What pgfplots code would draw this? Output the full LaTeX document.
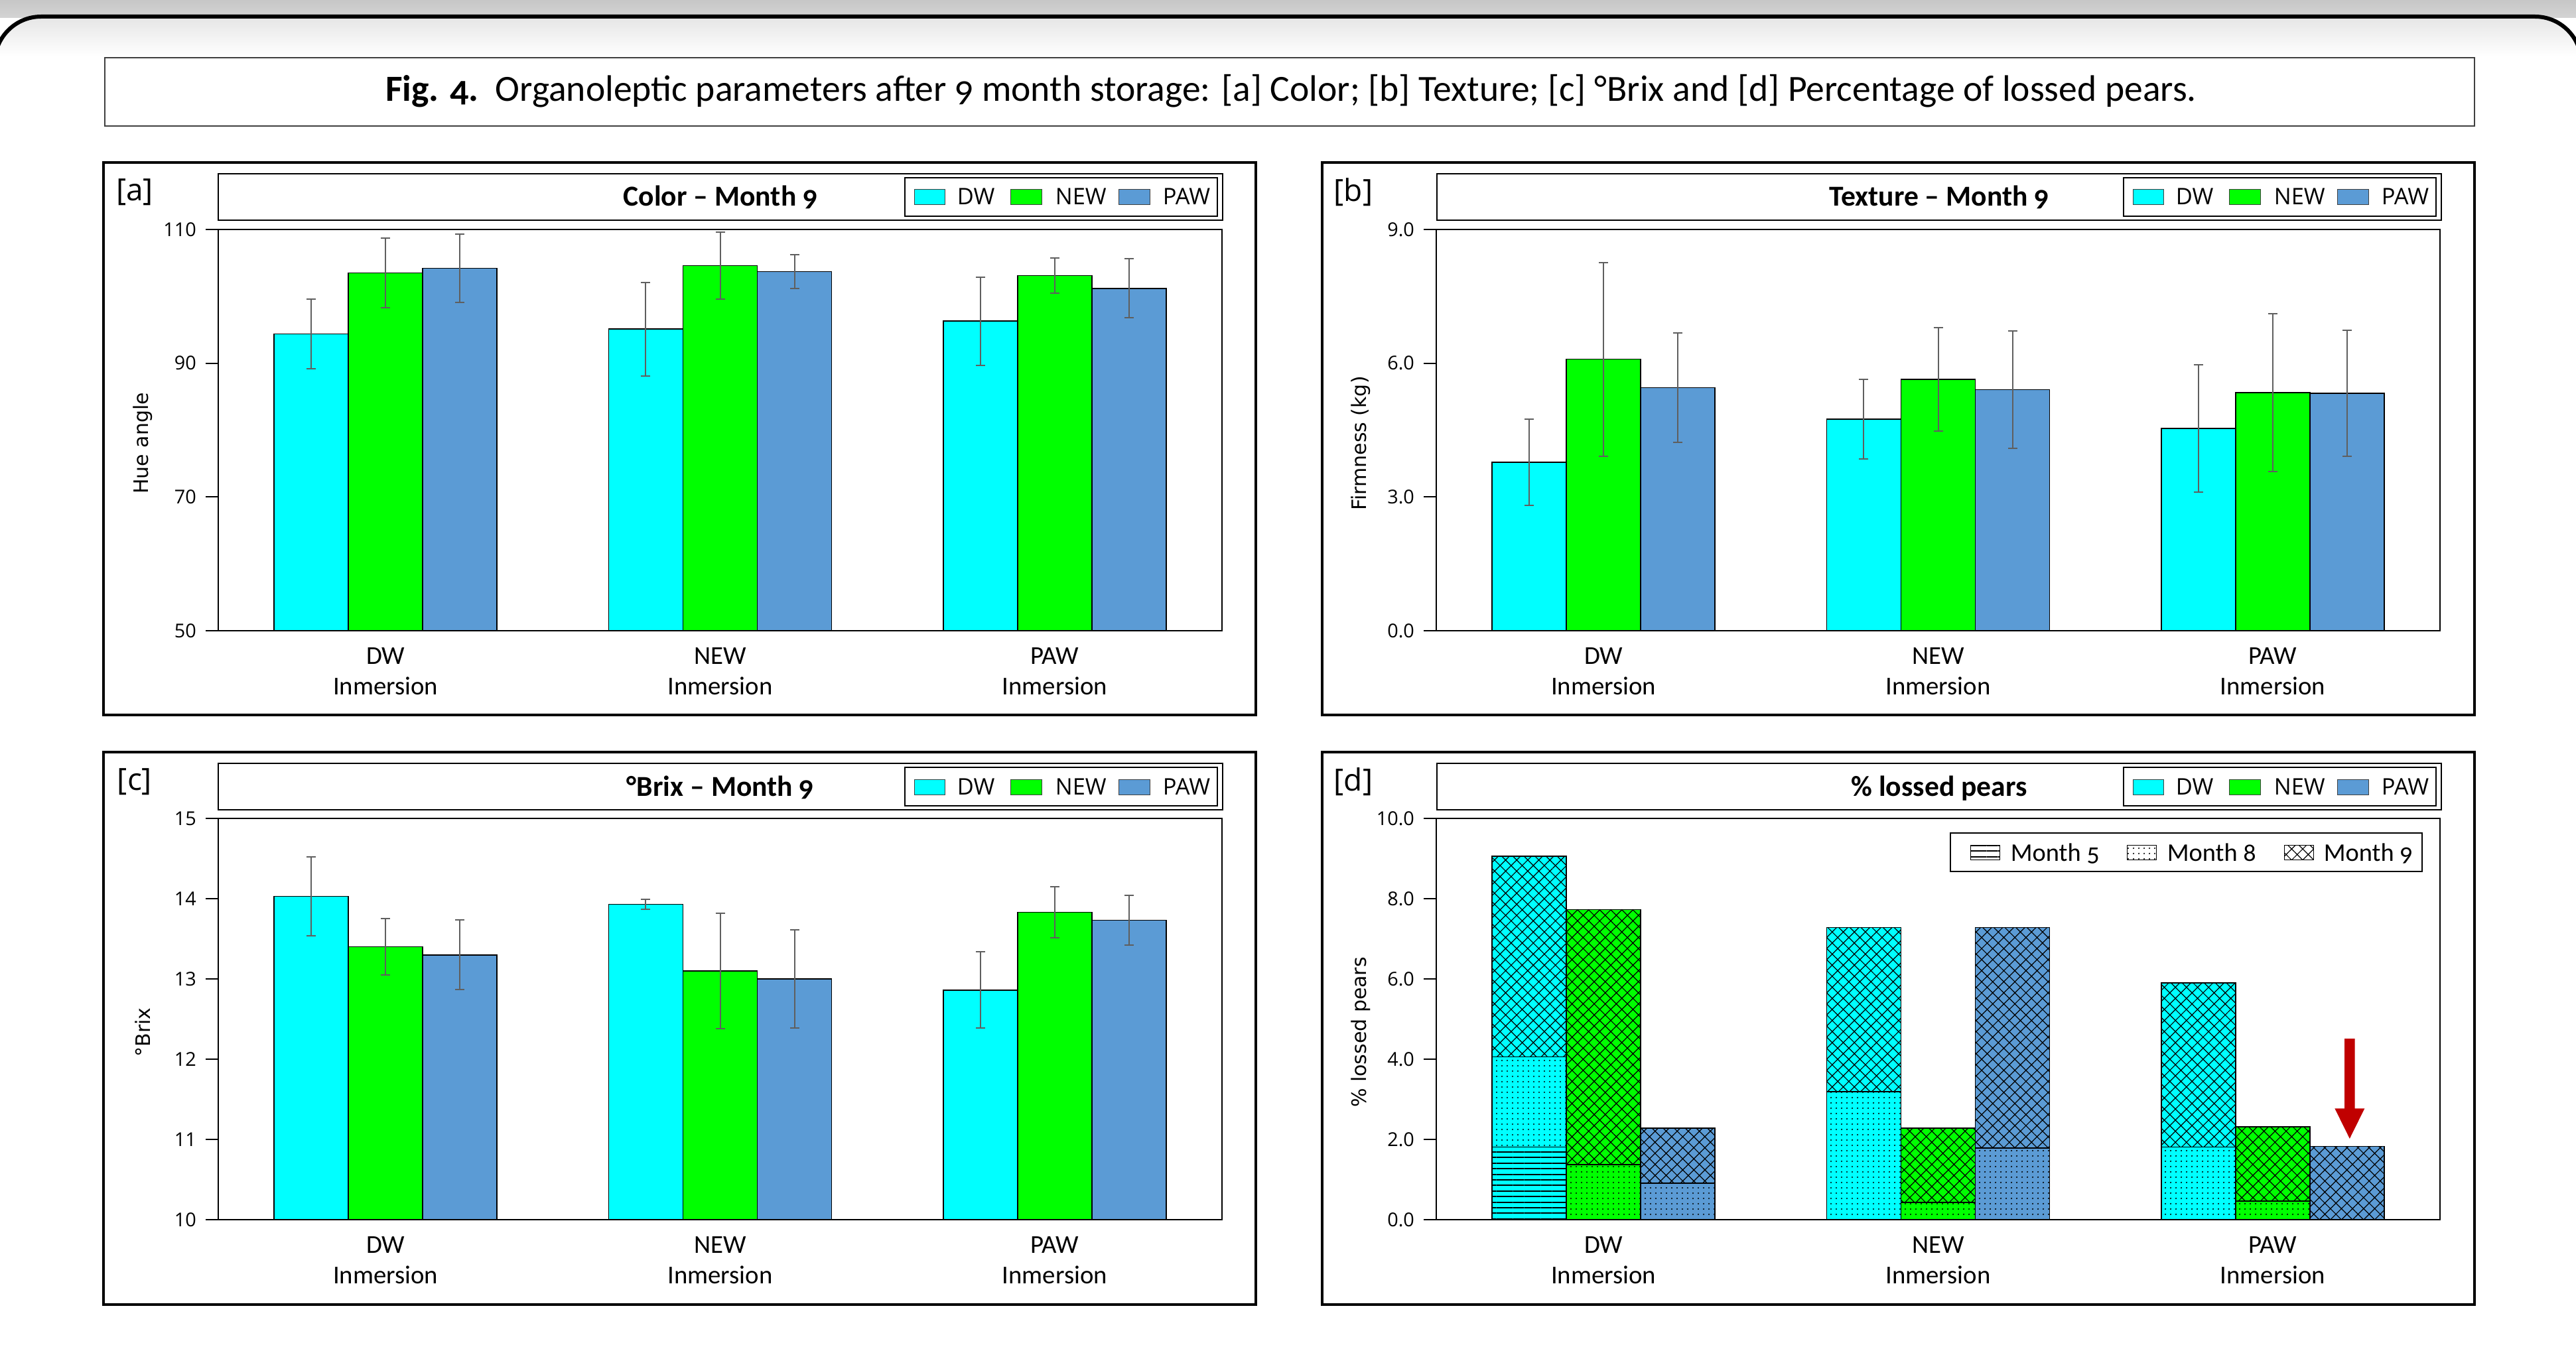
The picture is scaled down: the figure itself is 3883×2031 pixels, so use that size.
\documentclass[border=0pt]{standalone}
\usepackage{fontspec}
\setmainfont{Carlito}[Numbers=OldStyle]
\newfontfamily\segoe{Open Sans}
\newfontfamily\dejavu{DejaVu Sans}
\usepackage{pgfplots}
\pgfplotsset{compat=1.18}
\usetikzlibrary{patterns.meta}
\definecolor{cDW}{HTML}{00FFFF}
\definecolor{cNEW}{HTML}{00FF00}
\definecolor{cPAW}{HTML}{5B9BD5}
\definecolor{errg}{HTML}{5F5F5F}
\definecolor{arrowred}{HTML}{C00000}
\tikzset{
  m5/.style={postaction={pattern={Lines[angle=0,distance=2.1pt,line width=0.5pt]}}},
  m8/.style={postaction={pattern={Dots[distance=2pt,radius=0.3pt]}}},
  m9/.style={postaction={pattern={Hatch[angle=45,distance=2.95pt,line width=0.3pt]}}},
}
\pgfplotsset{
  panel/.style={
    scale only axis, width=378.25pt, height=151.25pt,
    xmin=-0.5, xmax=2.5, xtick={0,1,2},
    xticklabels={{DW\\Inmersion},{NEW\\Inmersion},{PAW\\Inmersion}},
    xticklabel style={align=center, font=\fontsize{9.7}{11.5}\selectfont, yshift=1.8pt},
    xtick style={draw=none},
    tick align=outside, ytick pos=left, major tick length=4.75pt,
    ytick style={line width=0.5pt, black},
    axis line style={line width=0.5pt},
    yticklabel style={font=\segoe\fontsize{7.2}{8}\selectfont},
    /pgf/number format/assume math mode=true,
    every axis y label/.style={at={(rel axis cs:-0.0753,0.467)}, rotate=90, anchor=center, font=\dejavu\fontsize{7.5}{9}\selectfont},
  },
  mybar/.style={ybar, bar width=0.2222, bar shift=0pt, draw=black, line width=0.4pt, fill=#1,
     error bars/.cd, y dir=both, y explicit,
     error bar style={line width=0.5pt, errg},
     error mark options={rotate=90, line width=0.5pt, errg, mark size=1.75pt}},
  sbar/.style={ybar, bar width=0.2222, bar shift=0pt, draw=black, line width=0.4pt, fill=#1},
}
\newcommand\toplegend[1]{%
  \draw[line width=0.6pt] (1364+#1,268) rectangle (1835+#1,326);
  \draw[line width=0.25pt, fill=cDW, draw=black!75] (1378+#1,286) rectangle (1424+#1,309);
  \node[anchor=base west, inner sep=0, font=\segoe\fontsize{8.6}{10}\selectfont] at (1442+#1,309) {DW};
  \draw[line width=0.25pt, fill=cNEW, draw=black!75] (1523+#1,286) rectangle (1570+#1,309);
  \node[anchor=base west, inner sep=0, font=\segoe\fontsize{8.6}{10}\selectfont] at (1590+#1,309) {NEW};
  \draw[line width=0.25pt, fill=cPAW, draw=black!75] (1686+#1,286) rectangle (1733+#1,309);
  \node[anchor=base west, inner sep=0, font=\segoe\fontsize{8.6}{10}\selectfont] at (1752+#1,309) {PAW};
}
\begin{document}
\begin{tikzpicture}
\begin{scope}[x=0.25pt, y=-0.25pt]
\path[use as bounding box] (0,0) rectangle (3883,2031);
\fill[white] (0,0) rectangle (3883,2031);
\shade[top color=black!22, bottom color=black!17] (0,0) rectangle (3883,27);
\begin{scope}
\clip[rounded corners=17.5pt] (-8,25) rectangle (3891,2300);
\fill[white] (-8,25) rectangle (3891,2300);
\shade[top color=black!10, bottom color=white] (0,25) rectangle (3883,85);
\end{scope}
\draw[line width=1.5pt, rounded corners=17.5pt] (-8,2300) -- (-8,25) -- (3891,25) -- (3891,2300);
% main title
\draw[line width=0.5pt, draw=black!75] (158,87) rectangle (3730,190);
\node[anchor=base, inner sep=0, font=\fontsize{13.9}{16}\selectfont] at (1946,153) {\textbf{Fig. 4.}\ \ Organoleptic parameters after 9 month storage: [a] Color; [b] Texture; [c] °Brix and [d] Percentage of lossed pears.};
% panel frames
\foreach \dx/\dy/\lab/\ttl in {0/0/a/{Color – Month 9}, 1837/0/b/{Texture – Month 9}, 0/889/c/{°Brix – Month 9}, 1837/889/d/{\% lossed pears}} {
  \draw[line width=1pt] (156+\dx,245+\dy) rectangle (1893+\dx,1078+\dy);
  \draw[line width=0.6pt] (329+\dx,262+\dy) rectangle (1843+\dx,332+\dy);
  \node[font=\segoe\fontsize{11.5}{13}\selectfont, inner sep=0] at (203+\dx,290+\dy) {[\lab]};
  \node[anchor=base, inner sep=0, font=\bfseries\fontsize{10.9}{13}\selectfont] at (1086+\dx,311+\dy) {\ttl};
}
\toplegend{0}
\toplegend{1837}
\begin{scope}[yshift=-222.25pt]
\toplegend{0}
\toplegend{1837}
\end{scope}
% month legend in panel d
\draw[line width=0.6pt] (2940,1256) rectangle (3651,1314);
\draw[line width=0.25pt, fill=white, m5] (2970,1274) rectangle (3014,1296);
\node[anchor=base west, inner sep=0, font=\fontsize{9.6}{11}\selectfont] at (3030,1298) {Month 5};
\draw[line width=0.25pt, fill=white, m8] (3206,1274) rectangle (3250,1296);
\node[anchor=base west, inner sep=0, font=\fontsize{9.6}{11}\selectfont] at (3266,1298) {Month 8};
\draw[line width=0.25pt, fill=white, m9] (3443,1274) rectangle (3487,1296);
\node[anchor=base west, inner sep=0, font=\fontsize{9.6}{11}\selectfont] at (3502,1298) {Month 9};
\end{scope}

% [a] Color
\begin{axis}[panel, at={(82.25pt,-237.75pt)}, anchor=south west,
  ymin=50, ymax=110, ytick={50,70,90,110}, ylabel={Hue angle}]
\addplot[mybar=cDW] coordinates {(-0.2222,94.4) +- (0,5.2) (0.7778,95.1) +- (0,7.0) (1.7778,96.3) +- (0,6.6)};
\addplot[mybar=cNEW] coordinates {(0,103.5) +- (0,5.25) (1,104.6) +- (0,5.0) (2,103.1) +- (0,2.6)};
\addplot[mybar=cPAW] coordinates {(0.2222,104.2) +- (0,5.1) (1.2222,103.7) +- (0,2.5) (2.2222,101.2) +- (0,4.4)};
\end{axis}

% [b] Texture
\begin{axis}[panel, at={(541.25pt,-237.75pt)}, anchor=south west,
  ymin=0, ymax=9, ytick={0,3,6,9},
  yticklabel style={/pgf/number format/.cd, fixed, fixed zerofill, precision=1},
  ylabel={Firmness (kg)}]
\addplot[mybar=cDW] coordinates {(-0.2222,3.78) +- (0,0.97) (0.7778,4.75) +- (0,0.89) (1.7778,4.54) +- (0,1.43)};
\addplot[mybar=cNEW] coordinates {(0,6.09) +- (0,2.17) (1,5.64) +- (0,1.16) (2,5.34) +- (0,1.77)};
\addplot[mybar=cPAW] coordinates {(0.2222,5.45) +- (0,1.23) (1.2222,5.41) +- (0,1.32) (2.2222,5.33) +- (0,1.41)};
\end{axis}

% [c] Brix
\begin{axis}[panel, at={(82.25pt,-459.75pt)}, anchor=south west,
  ymin=10, ymax=15, ytick={10,11,12,13,14,15}, ylabel={°Brix}]
\addplot[mybar=cDW] coordinates {(-0.2222,14.03) +- (0,0.49) (0.7778,13.93) +- (0,0.06) (1.7778,12.86) +- (0,0.475)};
\addplot[mybar=cNEW] coordinates {(0,13.40) +- (0,0.35) (1,13.10) +- (0,0.72) (2,13.83) +- (0,0.32)};
\addplot[mybar=cPAW] coordinates {(0.2222,13.30) +- (0,0.435) (1.2222,13.00) +- (0,0.61) (2.2222,13.73) +- (0,0.31)};
\end{axis}

% [d] lossed pears (cumulative tops: month 9 total, month 8, month 5)
\begin{axis}[panel, at={(541.25pt,-459.75pt)}, anchor=south west,
  ymin=0, ymax=10, ytick={0,2,4,6,8,10},
  yticklabel style={/pgf/number format/.cd, fixed, fixed zerofill, precision=1},
  ylabel={\% lossed pears}]
\addplot[sbar=cDW, m9] coordinates {(-0.2222,9.06) (0.7778,7.28) (1.7778,5.90)};
\addplot[sbar=cNEW, m9] coordinates {(0,7.73) (1,2.28) (2,2.31)};
\addplot[sbar=cPAW, m9] coordinates {(0.2222,2.28) (1.2222,7.28) (2.2222,1.83)};
\addplot[sbar=cDW, m8] coordinates {(-0.2222,4.06) (0.7778,3.19) (1.7778,1.81)};
\addplot[sbar=cNEW, m8] coordinates {(0,1.37) (1,0.43) (2,0.46)};
\addplot[sbar=cPAW, m8] coordinates {(0.2222,0.91) (1.2222,1.79)};
\addplot[sbar=cDW, m5] coordinates {(-0.2222,1.81)};
\fill[arrowred] (axis cs:2.2145,4.51) -- (axis cs:2.2455,4.51) -- (axis cs:2.2455,2.77) -- (axis cs:2.2745,2.77) -- (axis cs:2.23,2.02) -- (axis cs:2.1855,2.77) -- (axis cs:2.2145,2.77) -- cycle;
\end{axis}
\end{tikzpicture}
\end{document}
